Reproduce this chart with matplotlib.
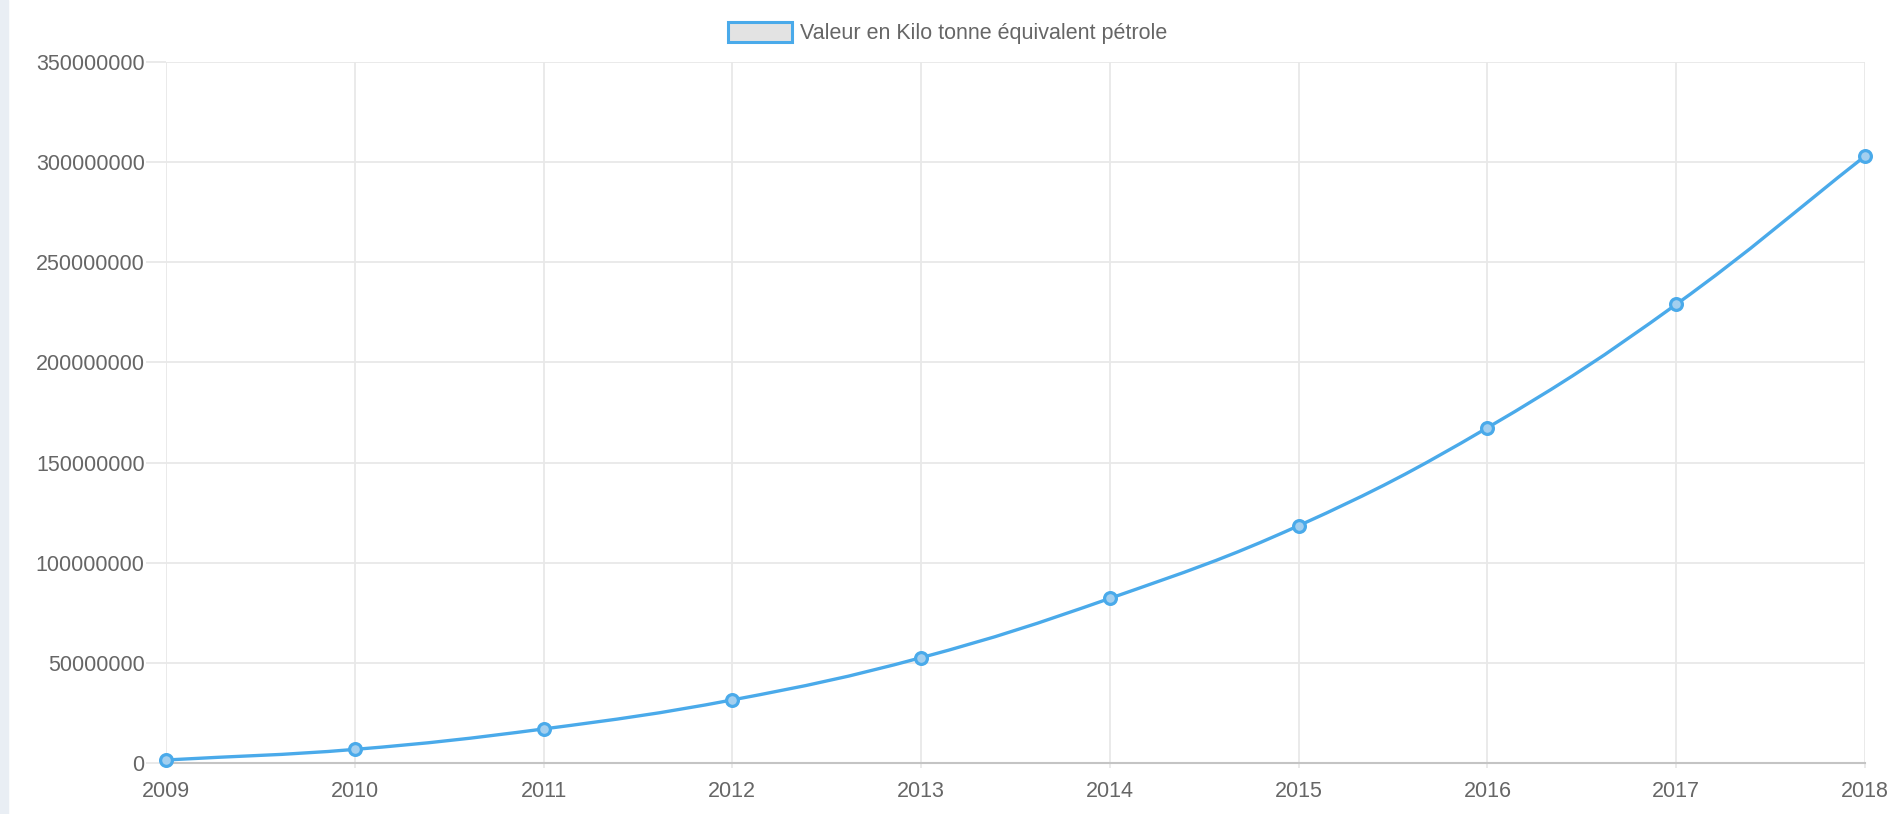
import numpy as np
import matplotlib.pyplot as plt
from matplotlib.path import Path
from matplotlib.patches import PathPatch, Rectangle, Patch

# data
years = [2009, 2010, 2011, 2012, 2013, 2014, 2015, 2016, 2017, 2018]
values = [1.5e6, 6.8e6, 17.0e6, 31.5e6, 52.6e6, 82.2e6, 118.5e6, 167.4e6, 229.0e6, 303.0e6]
y_ticks = [0, 50e6, 100e6, 150e6, 200e6, 250e6, 300e6, 350e6]
series_label = "Valeur en Kilo tonne équivalent pétrole"

line_color = "#4aaaea"
grid_color = "#e8e8e8"
text_color = "#666666"

plt.rcParams['font.family'] = ['Liberation Sans', 'DejaVu Sans']

W, H = 1895, 814
fig = plt.figure(figsize=(W / 100, H / 100), dpi=100)
fig.patches.append(Rectangle((0, 0), 8 / W, 1, transform=fig.transFigure,
                             color="#e9eef4", zorder=0))

left, right, bottom, top = 166, 1865, 763, 62
ax = fig.add_axes([left / W, (H - bottom) / H, (right - left) / W, (bottom - top) / H])
ax.set_xlim(years[0], years[-1])
ax.set_ylim(0, 350e6)
ax.set_xticks(years)
ax.set_xticklabels([str(y) for y in years])
ax.set_yticks(y_ticks)
ax.set_yticklabels([f"{int(v)}" for v in y_ticks])
ax.grid(True, color=grid_color, linewidth=1.3)
ax.set_axisbelow(True)
for s in ['top', 'right', 'left']:
    ax.spines[s].set_visible(False)
ax.spines['bottom'].set_color("#c4c4c4")
ax.spines['bottom'].set_linewidth(1.5)
ax.tick_params(axis='y', length=14.4, width=1.3, color=grid_color, pad=1,
               labelsize=15.5, labelcolor=text_color)
ax.tick_params(axis='x', length=3.6, width=1.3, color=grid_color, pad=9.5,
               labelsize=15.5, labelcolor=text_color)

# Chart.js-like bezier curve (tension 0.4), computed in pixel space
pts = ax.transData.transform(np.column_stack([years, values]))
tension = 0.4
n = len(pts)
ctrl_prev = np.zeros_like(pts)
ctrl_next = np.zeros_like(pts)
for i in range(n):
    p0 = pts[i - 1] if i > 0 else pts[i]
    p1 = pts[i]
    p2 = pts[i + 1] if i < n - 1 else pts[i]
    d01 = np.hypot(*(p1 - p0))
    d12 = np.hypot(*(p2 - p1))
    s01 = d01 / (d01 + d12)
    s12 = d12 / (d01 + d12)
    ctrl_prev[i] = p1 - tension * s01 * (p2 - p0)
    ctrl_next[i] = p1 + tension * s12 * (p2 - p0)

verts = [pts[0]]
codes = [Path.MOVETO]
for i in range(n - 1):
    verts += [ctrl_next[i], ctrl_prev[i + 1], pts[i + 1]]
    codes += [Path.CURVE4] * 3
verts = ax.transData.inverted().transform(np.array(verts))
curve = PathPatch(Path(verts, codes), fill=False, edgecolor=line_color,
                  linewidth=2.4, clip_on=False, zorder=3)
ax.add_patch(curve)
ax.plot(years, values, linestyle='none', marker='o', markersize=8.5,
        markerfacecolor="#a3cfef", markeredgecolor=line_color,
        markeredgewidth=2.3, clip_on=False, zorder=4)

# legend at the top
handle = Patch(facecolor="#e3e3e3", edgecolor=line_color, linewidth=2.2)
fig.legend([handle], [series_label], loc='center', bbox_to_anchor=(0.5, 1 - 33 / H),
           frameon=False, fontsize=15.5, labelcolor=text_color,
           handlelength=3.0, handleheight=1.1, handletextpad=0.35)

fig.savefig("out.png", dpi=100)
